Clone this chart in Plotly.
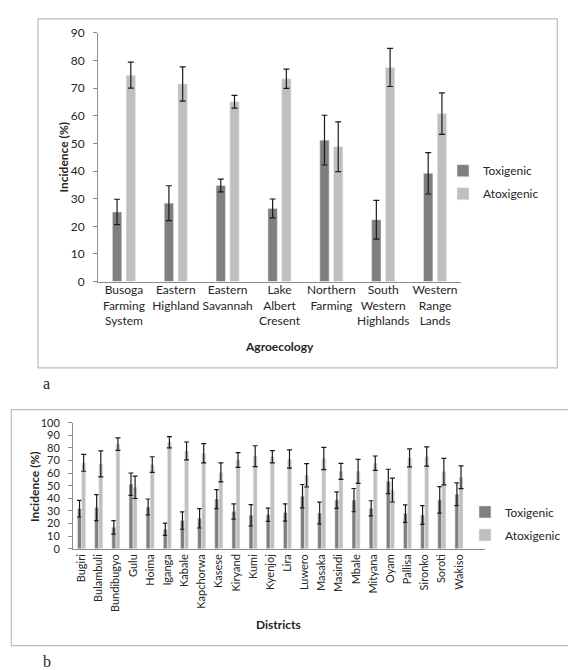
import plotly.graph_objects as go

W, H = 576, 670

# ---------- Panel a: agroecology ----------
agro_labels = ["Busoga<br>Farming<br>System", "Eastern<br>Highland", "Eastern<br>Savannah",
               "Lake<br>Albert<br>Cresent", "Northern<br>Farming", "South<br>Western<br>Highlands",
               "Western<br>Range<br>Lands"]
agro_tox = [25.2, 28.4, 34.8, 26.5, 51.2, 22.4, 39.2]
agro_tox_err = [4.6, 6.3, 2.3, 3.4, 9.0, 7.0, 7.5]
agro_atox = [74.7, 71.5, 65.1, 73.4, 48.8, 77.5, 60.8]
agro_atox_err = [4.7, 6.2, 2.3, 3.5, 9.0, 6.9, 7.5]

# ---------- Panel b: districts ----------
districts = ["Bugiri", "Bulambuli", "Bundibugyo", "Gulu", "Hoima", "Iganga", "Kabale",
             "Kapchorwa", "Kasese", "Kiryand", "Kumi", "Kyenjoj", "Lira", "Luwero",
             "Masaka", "Masindi", "Mbale", "Mityana", "Oyam", "Pallisa", "Sironko",
             "Soroti", "Wakiso"]
dist_tox = [31.8, 32.7, 17.0, 51.2, 33.2, 15.5, 22.4, 24.2, 39.4, 29.6, 26.6, 27.0, 28.8,
            41.7, 28.4, 38.6, 38.6, 32.1, 53.4, 27.9, 26.8, 38.8, 43.3]
dist_tox_err = [6.6, 10.3, 5.4, 8.9, 6.3, 4.8, 6.9, 7.7, 7.5, 6.0, 8.5, 5.2, 6.9,
                9.3, 8.6, 6.6, 9.2, 6.0, 9.7, 7.0, 7.5, 10.5, 9.0]
dist_atox = [68.2, 67.3, 83.0, 48.8, 66.8, 84.5, 77.6, 75.8, 60.6, 70.4, 73.4, 73.0, 71.2,
             58.3, 71.6, 61.4, 61.4, 67.9, 46.6, 72.1, 73.2, 61.2, 56.7]
dist_atox_err = [6.7, 10.3, 5.0, 8.9, 6.2, 4.4, 7.1, 7.6, 7.5, 5.9, 8.3, 4.9, 7.2,
                 9.3, 8.8, 6.3, 9.5, 5.7, 9.5, 7.1, 7.7, 10.5, 9.0]

TOX_C = "#7f7f7f"
ATOX_C = "#bfbfbf"
ERR_C = "#1a1a1a"
TXT = "#262626"
FONT = "Lato"

fig = go.Figure()

def err(vals, w):
    return dict(type="data", array=vals, visible=True, color=ERR_C, thickness=1.2, width=w)

fig.add_trace(go.Bar(x=agro_labels, y=agro_tox, name="Toxigenic", marker_color=TOX_C,
                     width=0.18, offset=-0.2225, error_y=err(agro_tox_err, 3),
                     xaxis="x", yaxis="y", legend="legend", legendgroup="t1"))
fig.add_trace(go.Bar(x=agro_labels, y=agro_atox, name="Atoxigenic", marker_color=ATOX_C,
                     width=0.18, offset=0.0425, error_y=err(agro_atox_err, 3),
                     xaxis="x", yaxis="y", legend="legend", legendgroup="a1"))
fig.add_trace(go.Bar(x=districts, y=dist_tox, name="Toxigenic", marker_color=TOX_C,
                     width=0.23, offset=-0.235, error_y=err(dist_tox_err, 2.5),
                     xaxis="x2", yaxis="y2", legend="legend2", legendgroup="t2"))
fig.add_trace(go.Bar(x=districts, y=dist_atox, name="Atoxigenic", marker_color=ATOX_C,
                     width=0.23, offset=0.005, error_y=err(dist_atox_err, 2.5),
                     xaxis="x2", yaxis="y2", legend="legend2", legendgroup="a2"))

axis_common = dict(showgrid=False, zeroline=False, showline=True, linecolor="#8c8c8c",
                   linewidth=1, color=TXT)

legend_common = dict(orientation="v", xanchor="left", yanchor="middle",
                     bgcolor="rgba(0,0,0,0)", font=dict(family=FONT, size=12, color=TXT),
                     tracegroupgap=4, traceorder="grouped")

fig.update_layout(
    width=W, height=H,
    margin=dict(l=0, r=0, t=0, b=0),
    paper_bgcolor="white", plot_bgcolor="white",
    font=dict(family=FONT, size=12, color=TXT),
    barmode="group",
    xaxis=dict(domain=[90 / W, 453 / W], anchor="y", type="category",
               tickfont=dict(size=12), ticks="", tickangle=0, range=[-0.5, 6.5],
               ticklabelstandoff=-3, **axis_common),
    yaxis=dict(domain=[1 - 271.7 / H, 1 - 17.3 / H], anchor="x", range=[0, 90], dtick=10,
               ticks="outside", ticklen=4, tickcolor="#8c8c8c", tickfont=dict(size=12),
               ticklabelstandoff=6, **axis_common),
    xaxis2=dict(domain=[65 / W, 476.7 / W], anchor="y2", type="category",
                tickfont=dict(size=11), tickangle=-90, ticks="", range=[-0.5, 23.5],
                **axis_common),
    yaxis2=dict(domain=[1 - 545 / H, 1 - 416 / H], anchor="x2", range=[0, 100], dtick=10,
                ticks="outside", ticklen=4, tickcolor="#8c8c8c", tickfont=dict(size=11),
                ticklabelstandoff=6, **axis_common),
    legend=dict(x=435 / W, y=1 - 170 / H, **legend_common),
    legend2=dict(x=457 / W, y=1 - 519 / H, **legend_common),
    showlegend=True,
)

shape_line = dict(color="#bdbdbd", width=1.2)
fig.add_shape(type="rect", xref="paper", yref="paper", x0=30 / W, x1=549.3 / W,
              y0=1 - 360 / H, y1=1 - 3 / H, line=shape_line, layer="below")
fig.add_shape(type="rect", xref="paper", yref="paper", x0=3.3 / W, x1=568.3 / W,
              y0=1 - 644 / H, y1=1 - 402.7 / H, line=shape_line, layer="below")

def ann(text, x, y, size=12, bold=True, angle=0, family=FONT):
    t = f"<b>{text}</b>" if bold else text
    fig.add_annotation(text=t, x=x / W, y=1 - y / H, xref="paper", yref="paper",
                       showarrow=False, textangle=angle, xanchor="center", yanchor="middle",
                       font=dict(family=family, size=size, color=TXT))

ann("Incidence (%)", 55.7, 145, size=12, angle=-90)
ann("Incidence (%)", 26.7, 482, size=12, angle=-90)
ann("Agroecology", 271, 338.3, size=12)
ann("Districts", 270.7, 622.7, size=12)
ann("a", 38, 376, size=16, bold=False, family="Liberation Serif")
ann("b", 39, 660, size=16, bold=False, family="Liberation Serif")

fig.write_html("out.html")
